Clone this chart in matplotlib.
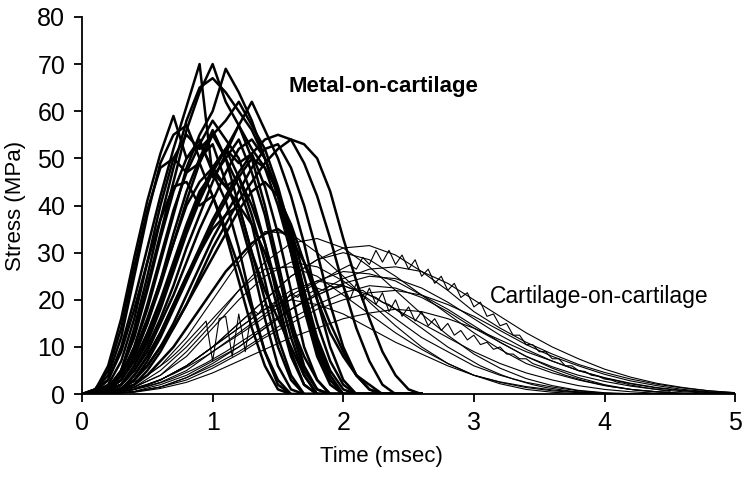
import numpy as np
import matplotlib
matplotlib.use("Agg")
import matplotlib.pyplot as plt

plt.rcParams['font.family'] = ['Liberation Sans', 'DejaVu Sans']

# time grids (msec)
t_metal = np.arange(27) * 0.1      # 0 .. 2.6
t_cart = np.arange(26) * 0.2       # 0 .. 5.0
t_fine = np.arange(91) * 0.05      # 0 .. 4.5

# metal-on-cartilage stress (MPa), sampled on t_metal
m01 = [0, 0.8, 6, 16, 29, 41, 51, 59, 50, 54, 47, 41, 31, 19, 9, 2, 0, 0, 0, 0, 0, 0, 0, 0, 0, 0, 0]
m02 = [0, 0.5, 3, 10, 20, 31, 42, 52, 61, 70, 46, 50, 40, 30, 20, 10, 3, 0, 0, 0, 0, 0, 0, 0, 0, 0, 0]
m03 = [0, 0.3, 1, 5, 13, 23, 34, 45, 56, 64, 70, 62, 57, 50, 40, 28, 16, 6, 1, 0, 0, 0, 0, 0, 0, 0, 0]
m04 = [0, 0.3, 1, 4, 10, 18, 28, 38, 48, 55, 60, 69, 64, 58, 50, 42, 30, 18, 8, 2, 0, 0, 0, 0, 0, 0, 0]
m05 = [0, 0.3, 1.5, 5, 14, 25, 37, 48, 58, 65, 67, 64, 60, 56, 50, 42, 32, 20, 10, 3, 0, 0, 0, 0, 0, 0, 0]
m06 = [0, 0.2, 0.8, 2, 6, 12, 19, 27, 35, 42, 48, 52, 57, 62, 56, 50, 42, 32, 20, 10, 3, 0, 0, 0, 0, 0, 0]
m07 = [0, 0.1, 0.5, 1, 4, 8, 13, 19, 25, 31, 37, 42, 47, 51, 54, 55, 54, 49, 42, 33, 23, 14, 7, 2, 0, 0, 0]
m08 = [0, 0.1, 0.4, 1, 2, 5, 9, 14, 19, 25, 31, 36, 41, 45, 49, 52, 54, 53, 50, 43, 33, 24, 16, 9, 4, 1, 0]
m09 = [0, 1, 4, 12, 25, 38, 49, 55, 57, 50, 53, 45, 38, 28, 16, 6, 1, 0, 0, 0, 0, 0, 0, 0, 0, 0, 0]
m10 = [0, 0.5, 2, 7, 16, 28, 40, 50, 55, 52, 55, 50, 44, 36, 24, 12, 4, 0, 0, 0, 0, 0, 0, 0, 0, 0, 0]
m11 = [0, 0.4, 1, 5, 12, 22, 33, 43, 50, 53, 48, 52, 46, 38, 28, 18, 8, 2, 0, 0, 0, 0, 0, 0, 0, 0, 0]
m12 = [0, 0.3, 1, 3, 8, 15, 24, 34, 43, 50, 56, 50, 54, 47, 38, 26, 14, 5, 1, 0, 0, 0, 0, 0, 0, 0, 0]
m13 = [0, 0.2, 0.8, 2, 6, 11, 18, 26, 34, 41, 47, 52, 49, 51, 44, 34, 22, 10, 3, 0, 0, 0, 0, 0, 0, 0, 0]
m14 = [0, 0.2, 0.8, 2, 5, 10, 16, 23, 31, 38, 45, 51, 57, 52, 48, 40, 30, 19, 9, 3, 0, 0, 0, 0, 0, 0, 0]
m15 = [0, 0.1, 0.5, 1, 3, 7, 12, 18, 24, 30, 36, 41, 46, 50, 48, 43, 35, 25, 15, 7, 2, 0, 0, 0, 0, 0, 0]
m16 = [0, 1, 3, 9, 18, 28, 37, 44, 45, 40, 42, 35, 27, 18, 9, 3, 0, 0, 0, 0, 0, 0, 0, 0, 0, 0, 0]
m17 = [0, 0.3, 1, 4, 9, 16, 24, 32, 40, 45, 48, 44, 40, 30, 22, 16, 10, 4, 0, 0, 0, 0, 0, 0, 0, 0, 0]
m18 = [0, 0.1, 0.5, 1, 4, 8, 13, 19, 25, 30, 35, 38, 40, 36, 30, 22, 15, 8, 3, 0, 0, 0, 0, 0, 0, 0, 0]
m19 = [0, 0.1, 0.5, 1, 3, 6, 10, 15, 21, 27, 33, 38, 43, 48, 52, 53, 48, 40, 30, 19, 10, 4, 1, 0, 0, 0, 0]
m20 = [0, 0.1, 0.3, 1, 2, 4, 7, 10, 14, 18, 22, 26, 29, 32, 34, 35, 33, 28, 22, 15, 9, 4, 1, 0, 0, 0, 0]
m21 = [0, 0.3, 1, 4, 10, 19, 29, 39, 47, 53, 58, 54, 50, 42, 32, 20, 9, 2, 0, 0, 0, 0, 0, 0, 0, 0, 0]
m22 = [0, 1, 5, 14, 27, 39, 48, 50, 47, 49, 42, 34, 24, 14, 6, 1, 0, 0, 0, 0, 0, 0, 0, 0, 0, 0, 0]
m23 = [0, 0.1, 0.4, 1, 3, 6, 10, 14, 19, 24, 29, 34, 39, 43, 45, 42, 36, 28, 20, 13, 8, 4, 2, 0, 0, 0, 0]
m24 = [0, 0.2, 0.8, 2, 5, 9, 15, 21, 28, 35, 41, 47, 52, 54, 50, 43, 33, 22, 12, 5, 1, 0, 0, 0, 0, 0, 0]
m25 = [0, 0.2, 1, 3, 8, 15, 23, 32, 41, 49, 55, 58, 62, 57, 52, 44, 34, 22, 11, 4, 0, 0, 0, 0, 0, 0, 0]
m26 = [0, 0.2, 1, 3, 7, 13, 20, 28, 36, 43, 47, 44, 46, 40, 32, 22, 12, 4, 0, 0, 0, 0, 0, 0, 0, 0, 0]

# cartilage-on-cartilage stress (MPa), sampled on t_cart
c01 = [0, 0.5, 2, 6, 12, 20, 28, 34.5, 34, 30, 25, 19.5, 14.5, 10, 6.5, 4, 2.2, 1, 0.4, 0.1, 0, 0, 0, 0, 0, 0]
c02 = [0, 0.3, 1.5, 4, 9, 15, 22, 28, 32, 33, 31, 27, 22, 17, 12.5, 8.5, 5.5, 3.3, 1.8, 0.8, 0.3, 0.1, 0, 0, 0, 0]
c03 = [0, 0.2, 1, 3, 6, 10, 15, 20, 25, 28.5, 31, 31.5, 29.5, 26, 22, 17.5, 14, 11, 8.5, 6.3, 4.6, 3.2, 2.1, 1.3, 0.7, 0.3]
c05 = [0, 0.3, 1.5, 4, 8, 14, 20, 25, 28, 27, 24, 20, 16, 12, 9, 6, 4, 2.5, 1.5, 0.7, 0.2, 0, 0, 0, 0, 0]
c06 = [0, 0.2, 1, 2.5, 5, 9, 13, 17, 21, 24, 26, 25.5, 24, 21, 18, 14.5, 11, 8, 5.5, 3.5, 2, 1, 0.5, 0.2, 0, 0]
c07 = [0, 0.1, 0.6, 2, 4, 7, 10, 14, 18, 21, 23.5, 25, 24.5, 22.5, 19.5, 16, 12.5, 9.5, 7, 5, 3.4, 2.2, 1.3, 0.7, 0.3, 0.1]
c08 = [0, 0.2, 1, 3, 6, 10, 14, 18, 22, 24, 23, 21, 18, 15, 12, 9, 6.5, 4.5, 3, 1.8, 1, 0.5, 0.2, 0, 0, 0]
c09 = [0, 0.1, 0.5, 1.5, 3, 5.5, 8.5, 12, 15, 18, 20, 21.5, 22, 21, 19, 16.5, 13.5, 10.5, 8, 6, 4.2, 2.8, 1.8, 1, 0.5, 0.2]
c10 = [0, 0.2, 1, 3, 6, 10, 14, 18, 20, 19, 17, 14, 11, 8.5, 6, 4, 2.6, 1.6, 0.9, 0.4, 0.1, 0, 0, 0, 0, 0]
c11 = [0, 0.3, 1.5, 5, 10, 16, 22, 26.5, 27, 25, 21, 17, 13, 9.5, 6.5, 4, 2.5, 1.4, 0.7, 0.3, 0, 0, 0, 0, 0, 0]
c12 = [0, 0.2, 1, 3, 6, 10, 15, 20, 25, 28.5, 30, 28.5, 25, 21, 17, 13, 9.5, 6.5, 4.5, 3, 1.8, 1, 0.5, 0.2, 0, 0]
c13 = [0, 0.1, 0.5, 1.5, 3.5, 6, 9, 12.5, 16, 19, 21.5, 23, 22.5, 20.5, 17.5, 14, 11, 8, 5.8, 4, 2.7, 1.7, 1, 0.5, 0.2, 0]
c14 = [0, 0.1, 0.4, 1.2, 2.5, 4.5, 7, 9.5, 12, 14, 16, 17.2, 18, 17.5, 16, 14, 11.5, 9, 7, 5, 3.5, 2.3, 1.4, 0.8, 0.4, 0.1]
c15 = [0, 0.1, 0.5, 1.5, 3.5, 6.5, 10, 14, 18, 21.5, 24.5, 26.5, 27, 26, 23.5, 20, 16.5, 13, 10, 7.5, 5.3, 3.6, 2.3, 1.4, 0.7, 0.3]

# noisy cartilage traces, sampled on t_fine
j01 = [0, 0, 0.1, 0.2, 0.3, 0.5, 0.7, 1, 1.3, 1.7, 2.1,
       2.6, 3.1, 3.7, 4.3, 5, 5.7, 6.5, 7.3, 8.1, 9,
       9.9, 10.8, 11.7, 12.6, 13.5, 14.5, 15.4, 16.4, 17.3, 18.3,
       19.2, 20.1, 21, 21.9, 22.8, 23.6, 24.4, 25.2, 26, 26.7,
       27.4, 26.5, 29, 27.5, 30.5, 28, 30.5, 27.5, 29.5, 26.5,
       28.5, 25, 26.5, 23.5, 25, 22, 23.5, 20.5, 21.5, 18.5,
       19.5, 16.5, 17, 14.5, 15, 12.5, 12.5, 10.5, 10.5, 9,
       9, 7.5, 7.5, 6, 6, 5, 4.8, 4, 3.8, 3.2,
       3, 2.5, 2.3, 1.9, 1.7, 1.4, 1.2, 1, 0.8, 0.6]
j02 = [0, 0, 0, 0.1, 0.2, 0.3, 0.5, 0.7, 1, 1.3, 1.6,
       2, 2.4, 2.9, 3.4, 4, 4.6, 5.2, 5.9, 6.6, 7.4,
       8.2, 9, 9.9, 10.8, 11.7, 12.6, 13.5, 14.5, 15.4, 16.3,
       17.2, 18, 18.8, 19.6, 20.3, 21, 21.6, 22.2, 22.7, 23.1,
       20, 23.5, 19.5, 22.5, 19, 21.5, 17.5, 20, 16.5, 18.5,
       15.5, 17.5, 14.5, 16, 13.5, 15, 12.5, 13.5, 11.5, 12.5,
       10.5, 11, 9.5, 10, 8.5, 8.5, 7.5, 7.5, 6.5, 6,
       5.5, 5, 4.5, 4, 3.6, 3.2, 2.8, 2.5, 2.2, 1.9,
       1.6, 1.4, 1.2, 1, 0.8, 0.7, 0.6, 0.5, 0.4, 0.3]
j03 = [0, 0, 0.2, 0.4, 0.7, 1, 1.5, 2, 2.6, 3.3, 4,
       5, 6, 7, 8.2, 9.5, 11, 12.5, 14, 15.5, 7, 16,
       16.5, 8, 17, 9, 18, 17, 19, 18, 20.5, 19.5,
       21.5, 20.5, 22, 21.5, 22.5, 22, 23, 22.5, 23,
       22.5, 22, 22, 21, 20.5, 19.5, 19, 18, 17, 16,
       15, 14, 13, 12, 11, 10, 9.2, 8.4, 7.6, 6.8,
       6, 5.4, 4.8, 4.2, 3.7, 3.2, 2.8, 2.4, 2, 1.7,
       1.4, 1.2, 1, 0.8, 0.6, 0.5, 0.4, 0.3, 0.2, 0.1,
       0, 0, 0, 0, 0, 0, 0, 0, 0]

metal = [m01, m02, m03, m04, m05, m06, m07, m08, m09, m10, m11, m12, m13,
         m14, m15, m16, m17, m18, m19, m20, m21, m22, m23, m24, m25, m26]
cart = [c01, c02, c03, c05, c06, c07, c08, c09, c10, c11, c12, c13, c14, c15]
noisy = [j01, j02, j03]

fig = plt.figure(figsize=(7.49, 4.83), dpi=100)
ax = fig.add_axes([0.1095, 0.184, 0.872, 0.781])

for s in cart:
    ax.plot(t_cart, s, color='black', lw=0.8)
for s in noisy:
    ax.plot(t_fine[:len(s)], s, color='black', lw=0.8)
for s in metal:
    ax.plot(t_metal, s, color='black', lw=1.8)

ax.set_xlim(0, 5)
ax.set_ylim(0, 80)
ax.set_xticks(range(0, 6))
ax.set_yticks(range(0, 81, 10))
for side in ['top', 'right']:
    ax.spines[side].set_visible(False)
for side in ['left', 'bottom']:
    ax.spines[side].set_linewidth(1.3)
ax.tick_params(direction='out', length=6, width=1.3, labelsize=18, pad=6)

ax.set_xlabel('Time (msec)', fontsize=16, labelpad=8)
ax.xaxis.label.set_x(0.459)
ax.set_ylabel('Stress (MPa)', fontsize=16, labelpad=8)

ax.text(1.58, 65.2, 'Metal-on-cartilage', fontsize=16, fontweight='bold', va='center')
ax.text(3.12, 20.8, 'Cartilage-on-cartilage', fontsize=16.5, va='center')

fig.savefig('out.png', dpi=100)
